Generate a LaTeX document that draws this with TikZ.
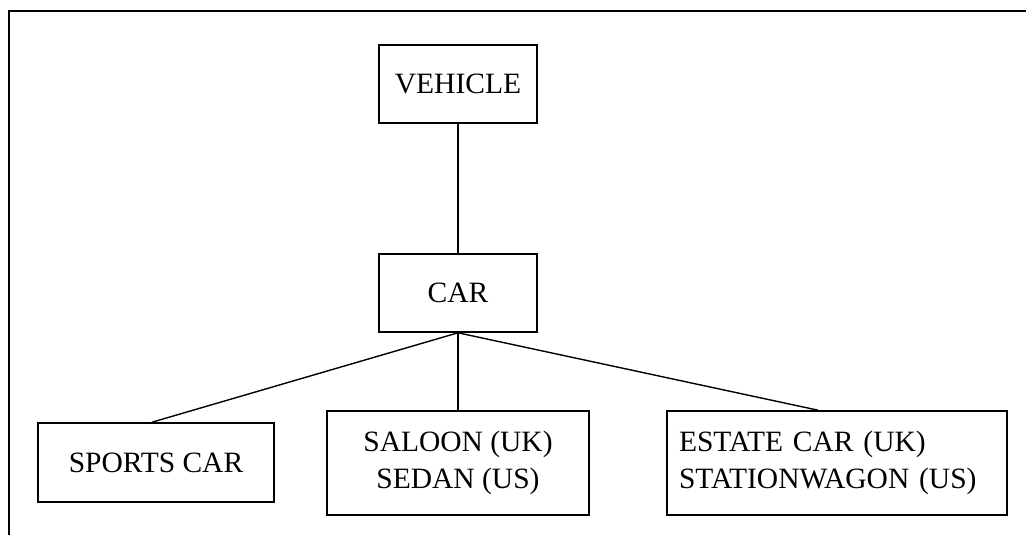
\documentclass[tikz,border=0pt]{standalone}
\usepackage{fontspec}
\setmainfont{Liberation Serif}
\usepackage{tikz}
\usetikzlibrary{calc}

\begin{document}
\begin{tikzpicture}[x=1pt,y=-1pt,
  catbox/.style={draw,line width=1.6pt,inner sep=0pt,align=center,
    font=\fontsize{29.5}{37}\selectfont},
  link/.style={line width=1.4pt}]
\useasboundingbox (0,0) rectangle (1026,535);

% Frame
\draw[line width=2pt] (1026,11) -- (8.5,11) -- (8.5,535);

% Boxes
\node[catbox,minimum width=158pt,minimum height=78pt] (vehicle) at (458,84) {VEHICLE};
\node[catbox,minimum width=158pt,minimum height=78pt] (car) at (458,293) {CAR};
\node[catbox,minimum width=236pt,minimum height=79pt] (sports) at (156,462.5) {SPORTS CAR};
\node[catbox,minimum width=262pt,minimum height=104pt] (saloon) at (458,463) {SALOON (UK)\\SEDAN (US)};
\node[catbox,text width=316pt,inner xsep=12pt,minimum height=104pt,align=left] (estate) at (837,463)
  {ESTATE CAR (UK)\\STATIONWAGON (US)};

% Links
\draw[link] (vehicle.south) -- (car.north);
\draw[link] (car.south) -- ([xshift=-4pt]sports.north);
\draw[link] (car.south) -- (saloon.north);
\draw[link] (car.south) -- ([xshift=-19pt]estate.north);
\end{tikzpicture}
\end{document}
